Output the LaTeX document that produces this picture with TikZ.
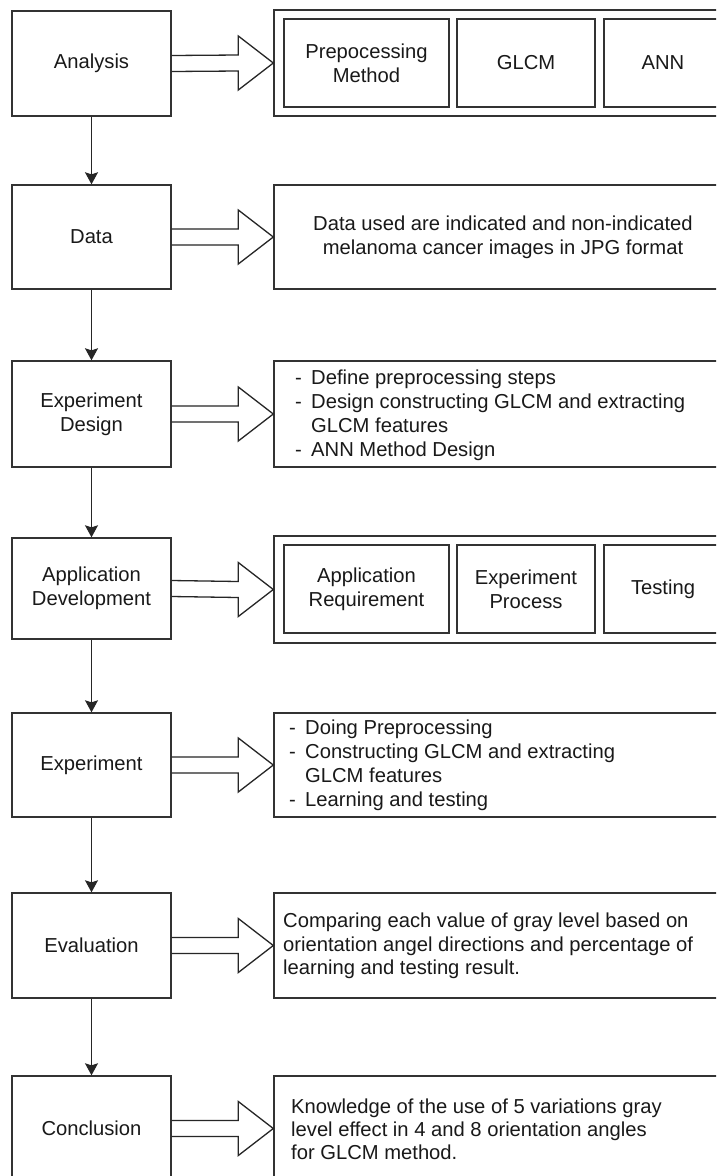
\documentclass[tikz,border=0pt]{standalone}
\usepackage{fontspec}
\setmainfont{Liberation Sans}
\usetikzlibrary{arrows.meta,calc}
\newcommand\dsh{\makebox[16pt][l]{-}}
\newcommand\harr[2]{\draw[harrow] ($(#1.east)+(0,-8)$) -- ($(#2.west)+(-35,-8)$) -- ($(#2.west)+(-35,-27)$) -- (#2.west) -- ($(#2.west)+(-35,27)$) -- ($(#2.west)+(-35,8)$) -- ($(#1.east)+(0,8)$);}
\begin{document}
\begin{tikzpicture}[x=1pt,y=-1pt,
  every node/.style={font=\fontsize{20.2}{24}\selectfont, text=black!90, inner sep=0pt},
  lbox/.style={draw=black!80, line width=1.4pt, minimum width=159pt, align=center},
  rbox/.style={draw=black!80, line width=1.4pt, minimum width=458pt, align=center},
  ibox/.style={draw=black!80, line width=1.4pt, minimum height=88pt, align=center},
  btext/.style={anchor=west, align=left},
  flow/.style={draw=black!85, line width=1.2pt, -{Stealth[length=12pt,width=13pt,inset=2pt]}},
  harrow/.style={draw=black!85, line width=1.3pt, line join=miter}]
\clip (0,0) rectangle (716,1176);
\fill[white] (0,0) rectangle (716,1176);
% left column
\node[lbox, minimum height=105pt] (a1) at (91.5,63.5) {Analysis};
\node[lbox, minimum height=104pt] (a2) at (91.5,237) {Data};
\node[lbox, minimum height=106pt] (a3) at (91.5,414) {Experiment\\Design};
\node[lbox, minimum height=101pt] (a4) at (91.5,588.5) {Application\\Development};
\node[lbox, minimum height=104pt] (a5) at (91.5,765) {Experiment};
\node[lbox, minimum height=105pt] (a6) at (91.5,945.5) {Evaluation};
\node[lbox, minimum height=105pt] (a7) at (91.5,1128.5) {Conclusion};
% right column
\node[rbox, minimum height=106pt] (r1) at (503,63) {};
\node[ibox, minimum width=165pt] (p1) at (366.5,63) {Prepocessing\\Method};
\node[ibox, minimum width=138pt] (g1) at (526,63) {GLCM};
\node[ibox, minimum width=118pt] (n1) at (663,63) {ANN};
\node[rbox, minimum height=104pt] (r2) at (503,237) {Data used are indicated and non-indicated\\melanoma cancer images in JPG format};
\node[rbox, minimum height=106pt] (r3) at (503,414) {};
\node[btext] (t3) at (295,415) {\dsh Define preprocessing steps\\\dsh Design constructing GLCM and extracting\\\hphantom{\dsh}GLCM features\\\dsh ANN Method Design};
\node[rbox, minimum height=107pt] (r4) at (503,589.5) {};
\node[ibox, minimum width=165pt] (p4) at (366.5,589) {Application\\Requirement};
\node[ibox, minimum width=138pt] (g4) at (526,589) {Experiment\\Process};
\node[ibox, minimum width=118pt] (n4) at (663,589) {Testing};
\node[rbox, minimum height=104pt] (r5) at (503,765) {};
\node[btext] (t5) at (289,765) {\dsh Doing Preprocessing\\\dsh Constructing GLCM and extracting\\\hphantom{\dsh}GLCM features\\\dsh Learning and testing};
\node[rbox, minimum height=105pt] (r6) at (503,945.5) {};
\node[btext, font=\fontsize{20.2}{23.5}\selectfont] (t6) at (283,946) {Comparing each value of gray level based on\\orientation angel directions and percentage of\\learning and testing result.};
\node[rbox, minimum height=105pt] (r7) at (503,1128.5) {};
\node[btext, font=\fontsize{20.2}{23}\selectfont] (t7) at (291,1129) {Knowledge of the use of 5 variations gray\\level effect in 4 and 8 orientation angles\\for GLCM method.};
% flow connectors
\draw[flow] (a1) -- (a2);
\draw[flow] (a2) -- (a3);
\draw[flow] (a3) -- (a4);
\draw[flow] (a4) -- (a5);
\draw[flow] (a5) -- (a6);
\draw[flow] (a6) -- (a7);
% hollow arrows
\harr{a1}{r1}
\harr{a2}{r2}
\harr{a3}{r3}
\harr{a4}{r4}
\harr{a5}{r5}
\harr{a6}{r6}
\harr{a7}{r7}
\end{tikzpicture}
\end{document}
